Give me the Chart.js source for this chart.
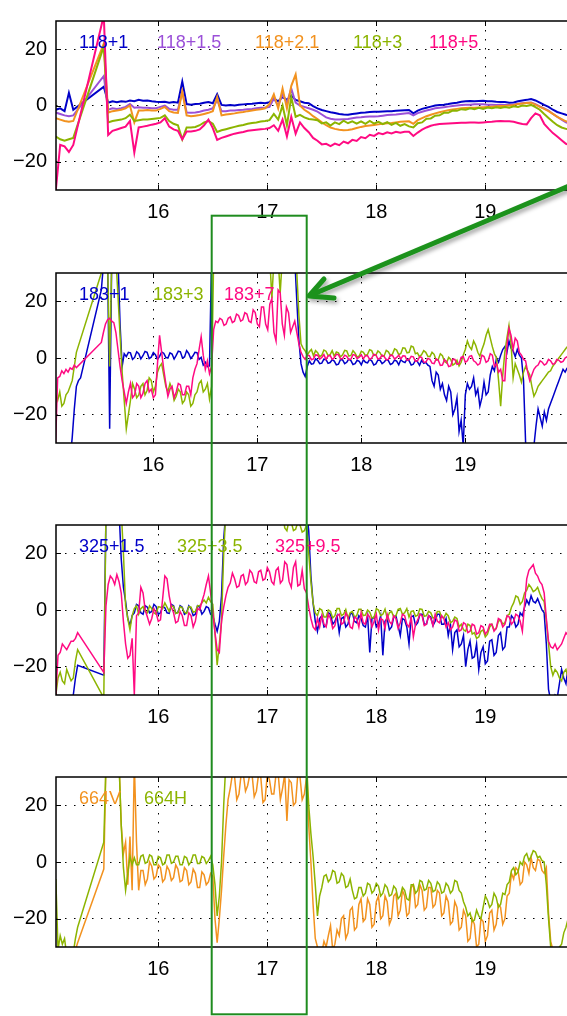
<!DOCTYPE html>
<html>
<head>
<meta charset="utf-8">
<script src="https://cdn.jsdelivr.net/npm/chart.js@4/dist/chart.umd.min.js"></script>
<style>
  html, body { margin: 0; padding: 0; background: #fff; }
  body { width: 567px; height: 1016px; position: relative; overflow: hidden; }
  canvas.panel { position: absolute; left: 0; }
  #marks { position: absolute; left: 0; top: 0; }
</style>
</head>
<body>
<canvas class="panel" id="c118" width="567" height="232" style="top:0px"></canvas>
<canvas class="panel" id="c183" width="567" height="233" style="top:252px"></canvas>
<canvas class="panel" id="c325" width="567" height="233" style="top:504px"></canvas>
<canvas class="panel" id="c664" width="567" height="233" style="top:756px"></canvas>

<svg id="marks" width="567" height="1016">
  <defs>
    <filter id="shadow" x="-10%" y="-10%" width="130%" height="140%">
      <feDropShadow dx="2" dy="3" stdDeviation="2" flood-color="#000" flood-opacity="0.35"/>
    </filter>
  </defs>
  <rect x="211.7" y="215.7" width="95" height="798.6" fill="none" stroke="#1f8c1f" stroke-width="2"/>
  <g filter="url(#shadow)" stroke="#1c921c" stroke-width="5" fill="none" stroke-linecap="round" stroke-linejoin="round">
    <line x1="600" y1="173" x2="311" y2="295"/>
    <polyline points="324,279 309,296 334,298"/>
  </g>
</svg>

<script>
// sample times (hours) for the 118 GHz traces
const T1 = [
  15.06, 15.10, 15.14, 15.18, 15.22, 15.26, 15.30, 15.34, 15.38, 15.42,
  15.46, 15.50, 15.54, 15.58, 15.62, 15.66, 15.70, 15.74, 15.78, 15.82,
  15.86, 15.90, 15.94, 15.98, 16.02, 16.06, 16.10, 16.14, 16.18, 16.22,
  16.26, 16.30, 16.34, 16.38, 16.42, 16.46, 16.50, 16.54, 16.58, 16.62,
  16.66, 16.70, 16.74, 16.78, 16.82, 16.86, 16.90, 16.94, 16.98, 17.02,
  17.06, 17.10, 17.14, 17.18, 17.22, 17.26, 17.30, 17.34, 17.38, 17.42,
  17.46, 17.50, 17.54, 17.58, 17.62, 17.66, 17.70, 17.74, 17.78, 17.82,
  17.86, 17.90, 17.94, 17.98, 18.02, 18.06, 18.10, 18.14, 18.18, 18.22,
  18.26, 18.30, 18.34, 18.38, 18.42, 18.46, 18.50, 18.54, 18.58, 18.62,
  18.66, 18.70, 18.74, 18.78, 18.82, 18.86, 18.90, 18.94, 18.98, 19.02,
  19.06, 19.10, 19.14, 19.18, 19.22, 19.26, 19.30, 19.34, 19.38, 19.42,
  19.46, 19.50, 19.54, 19.58, 19.62, 19.66, 19.70, 19.74, 19.78
];

// sample times (hours) for the noisier 183 / 325 / 664 GHz traces
const T2 = [
  15.06, 15.08, 15.10, 15.12, 15.14, 15.16, 15.18, 15.20, 15.22, 15.24, 15.26, 15.28, 15.30, 15.32, 15.34, 15.36, 15.38, 15.40, 15.42, 15.44,
  15.46, 15.48, 15.50, 15.52, 15.54, 15.56, 15.58, 15.60, 15.62, 15.64, 15.66, 15.68, 15.70, 15.72, 15.74, 15.76, 15.78, 15.80, 15.82, 15.84,
  15.86, 15.88, 15.90, 15.92, 15.94, 15.96, 15.98, 16.00, 16.02, 16.04, 16.06, 16.08, 16.10, 16.12, 16.14, 16.16, 16.18, 16.20, 16.22, 16.24,
  16.26, 16.28, 16.30, 16.32, 16.34, 16.36, 16.38, 16.40, 16.42, 16.44, 16.46, 16.48, 16.50, 16.52, 16.54, 16.56, 16.58, 16.60, 16.62, 16.64,
  16.66, 16.68, 16.70, 16.72, 16.74, 16.76, 16.78, 16.80, 16.82, 16.84, 16.86, 16.88, 16.90, 16.92, 16.94, 16.96, 16.98, 17.00, 17.02, 17.04,
  17.06, 17.08, 17.10, 17.12, 17.14, 17.16, 17.18, 17.20, 17.22, 17.24, 17.26, 17.28, 17.30, 17.32, 17.34, 17.36, 17.38, 17.40, 17.42, 17.44,
  17.46, 17.48, 17.50, 17.52, 17.54, 17.56, 17.58, 17.60, 17.62, 17.64, 17.66, 17.68, 17.70, 17.72, 17.74, 17.76, 17.78, 17.80, 17.82, 17.84,
  17.86, 17.88, 17.90, 17.92, 17.94, 17.96, 17.98, 18.00, 18.02, 18.04, 18.06, 18.08, 18.10, 18.12, 18.14, 18.16, 18.18, 18.20, 18.22, 18.24,
  18.26, 18.28, 18.30, 18.32, 18.34, 18.36, 18.38, 18.40, 18.42, 18.44, 18.46, 18.48, 18.50, 18.52, 18.54, 18.56, 18.58, 18.60, 18.62, 18.64,
  18.66, 18.68, 18.70, 18.72, 18.74, 18.76, 18.78, 18.80, 18.82, 18.84, 18.86, 18.88, 18.90, 18.92, 18.94, 18.96, 18.98, 19.00, 19.02, 19.04,
  19.06, 19.08, 19.10, 19.12, 19.14, 19.16, 19.18, 19.20, 19.22, 19.24, 19.26, 19.28, 19.30, 19.32, 19.34, 19.36, 19.38, 19.40, 19.42, 19.44,
  19.46, 19.48, 19.50, 19.52, 19.54, 19.56, 19.58, 19.60, 19.62, 19.64, 19.66, 19.68, 19.70, 19.72, 19.74, 19.76, 19.78, 19.80, 19.82, 19.84,
  19.86, 19.88, 19.90, 19.92, 19.94, 19.96, 19.98
];

const X_TICKS = [16, 17, 18, 19];
const Y_TICKS = [-20, 0, 20];

// ---- 118 GHz channels (on T1) ----
const ch118_1 = [
  -1.5, -1, -2, 4.5, -1.5, null, null, null, null, null,
  null, 6.7, 1.0, 1.5, 1.2, 1.5, 1.3, 1.8, 1.5, 2.0,
  1.7, 1.8, 1.5, 1.3, 1.2, 1.3, 1.0, 1.2, 1.0, 8.5,
  0.5, 0.3, 0.5, 0.6, 1.0, 1.2, 0.8, 4.0, 0.2, 0,
  0.2, 0, 0.3, 0.4, 0.5, 0.6, 0.8, 1.0, 0.8, 1.2,
  2.5, 1.5, 3, 2, 3.5, 2.0, 1.5, 1.0, 0.8, -0.2,
  -1.0, -1.6, -2.0, -2.4, -2.7, -3.0, -3.2, -3.3, -3.0, -2.8,
  -2.6, -2.5, -2.3, -2.2, -2.2, -2.1, -2.0, -2.0, -1.9, -1.8,
  -1.7, -1.6, -2.8, -1.8, -1.2, -0.8, -0.4, 0, 0.2, 0.3,
  0.5, 0.8, 1.0, 1.3, 1.5, 1.6, 1.5, 1.6, 1.7, 1.5,
  1.5, 1.3, 1.2, 1.2, 1.0, 1.1, 1.5, 1.8, 2.0, 2.3,
  1.8, 1.0, 0.2, -0.5, -1.5, -2.3, -2.8, -3.3, -3.6
];
const ch118_15 = [
  -2.5, -3, -3.5, -3.8, -3.5, null, null, null, null, null,
  null, 10.5, -1.5, -1.0, -1.2, -1.0, -0.5, 0.5, -0.8, -0.6,
  -0.8, -0.8, -1.0, -1.0, -0.5, 0, -1.2, -1.5, -1.5, 5,
  -2.5, -2.6, -2.5, -2.2, -1.8, -1.5, -1.0, 2, -2.0, -2.0,
  -1.8, -1.8, -1.6, -1.5, -1.3, -1.2, -1.0, -0.8, -0.8, -0.5,
  2.5, 0, 4, 1, 6, 1, 0, -0.5, -1.0, -1.5,
  -2.2, -3.2, -4.2, -4.7, -5, -5, -4.9, -4.8, -4.5, -4.3,
  -4.2, -4.0, -3.9, -3.9, -3.8, -3.6, -3.4, -3.3, -3.2, -3.0,
  -2.8, -2.7, -3.5, -2.7, -2.2, -1.8, -1.4, -1.0, -0.8, -0.6,
  -0.4, -0.2, 0, 0.2, 0.3, 0.3, 0.4, 0.4, 0.4, 0.3,
  0.3, 0.2, 0.3, 0.2, 0.2, 0.4, 0.6, 0.8, 1.0, 1.1,
  0.5, -0.3, -1.0, -1.8, -3, -4, -5, -6, -6.5
];
const ch118_21 = [
  -4.5, -5, -5.5, -5.8, -5.5, null, null, null, null, null,
  null, 22, -2.5, -2.0, -1.8, -1.5, -1.0, 0, -6, -1.8,
  -1.8, -1.6, -1.8, -1.8, -1.2, -0.5, -2.0, -2.5, -2.6, 5,
  -3.5, -3.8, -3.6, -3.4, -3.0, -2.6, -2.0, 3, -3.5, -3.2,
  -3.0, -2.8, -2.5, -2.3, -2.0, -1.8, -1.5, -1.3, -1.0, 0.5,
  4, -1, 6, -1, 7, 11, 0, -1.5, -2.5, -3.8,
  -4.8, -6.0, -7.0, -7.8, -8.3, -8.6, -8.8, -8.7, -8.4, -8.0,
  -7.6, -7.3, -7.1, -6.9, -6.7, -6.5, -6.3, -6.2, -6.0, -5.8,
  -5.7, -5.6, -6.5, -5.2, -4.5, -3.8, -3.3, -2.8, -2.4, -2.0,
  -1.7, -1.4, -1.2, -1.0, -0.9, -0.8, -0.8, -0.7, -0.6, -0.5,
  -0.4, -0.3, -0.2, -0.2, 0, 0.2, 0.5, 0.7, 0.9, 1.0,
  0.3, -0.5, -1.2, -2.0, -3, -4, -4.8, -5.6, -6
];
const ch118_3 = [
  -11, -12, -12.5, -12, -11.5, null, null, null, null, null,
  null, 21, -6, -5.5, -5.2, -5, -4.5, -3.3, -5.5, -5.2,
  -5.0, -5.0, -4.8, -4.6, -4.4, -3.5, -5.5, -6.5, -7.0, -12,
  -7.8, -7.8, -7.6, -7.0, -6.0, -5.5, -6.5, -9.4, -8.8, -8.4,
  -8.0, -7.6, -7.2, -6.9, -6.5, -6.2, -6.0, -5.7, -5.5, -5.2,
  -3, -5, 0, -7, 3, -4, -3.3, -4.2, -4.8, -5.0,
  -5.2, -6.4, -6.0, -7.1, -6.0, -6.6, -5.4, -6.3, -5.6, -6.4,
  -5.6, -6.5, -5.5, -6.4, -5.8, -6.6, -5.9, -6.9, -6.2, -7.2,
  -6.6, -7.4, -7.8, -6.3, -6.0, -4.7, -4.6, -3.6, -3.5, -2.6,
  -2.6, -1.8, -1.9, -1.3, -1.5, -1.0, -1.3, -0.8, -1.2, -0.7,
  -1.0, -0.6, -0.9, -0.5, -0.8, -0.3, -0.5, 0, -0.2, 0.2,
  -0.6, -1.5, -3.0, -4.4, -5.8, -7, -7.8, -8.3, -8.6
];
const ch118_5 = [
  -30, -14, -14.5, -16.5, -14, null, null, null, null, null,
  null, 32, -10.5, -9, -8.5, -8.0, -7.5, -5.5, -16.7, -7.8,
  -7.5, -7.2, -6.8, -6.5, -6.0, -4.5, -7.5, -8.5, -9.0, -12,
  -9.2, -9.2, -9.0, -8.5, -7.0, -5.0, -8, -12.2, -11.5, -11.0,
  -10.5, -10.0, -9.7, -9.4, -9.0, -8.8, -8.6, -8.4, -8.3, -8.0,
  -7.0, -9, -5, -11, -4, -10, -6, -8, -9.5, -11.5,
  -12.5, -13.8, -13.6, -14.4, -13.5, -14.1, -12.8, -13.4, -12.2, -12.6,
  -11.2, -11.6, -10.4, -10.8, -9.8, -10.2, -9.5, -9.9, -9.3, -9.7,
  -9.3, -9.3, -10.8, -9.6, -8.6, -7.8, -7.2, -6.8, -6.6, -6.5,
  -6.4, -6.3, -6.2, -6.1, -6.1, -6.0, -6.0, -6.1, -6.0, -5.9,
  -5.8, -5.6, -5.5, -5.6, -5.6, -5.8, -6.2, -6.6, -6.7, -4.5,
  -2.8, -3.5, -6.5, -8.2, -9.8, -11, -12.3, -13.6, -14.2
];

// ---- 183 GHz channels (on T2) ----
const ch183_1 = [
  -40, -40, -40, -40, -40, -40, -40, -36, -28, -18, -10, -8, -7, null, null, null, null, null, null, null,
  null, null, 24, 33, 35, 35, -25, 35, 35, 35, 35, 12, -3, 1.5, 0.5, 2.0, 1.8, -0.5, 0.2, 2.2,
  1.5, -0.3, 0.8, 2.3, 2.0, -0.2, 0.3, 1.9, 1.2, -0.5, 0.6, 2.1, 1.7, 0.2, 0.0, 1.8, 1.4, -0.4, 0.9, 2.4,
  2.2, 0.0, 0.4, 2.6, 1.6, -0.2, 0.7, 2.0, 1.9, -0.5, 0.2, -2.5, -1.5, -3.0, -2.8, 35, 35, 35, 35, 35,
  35, 35, 35, 35, 35, 35, 35, 35, 35, 35, 35, 35, 35, 35, 35, 35, 35, 35, 35, 35,
  35, 35, 35, 35, 35, 35, 35, 35, 35, 35, 35, 35, 35, 35, 35, 35, 20, 6, -2, -5,
  -6.5, -3, -1.0, -2.2, -2.0, -0.3, -0.8, -2.0, -1.8, -0.4, -0.5, -1.9, -1.6, -0.6, -1.1, -2.4, -2.2, -0.5, -0.7, -2.0,
  -1.5, -0.4, -0.9, -2.3, -2.0, -0.8, -1.2, -2.4, -0.6, -1.5, -1.7, -0.5, -1.0, -2.5, -2.1, -0.7, -0.8, -2.0, -1.4, -0.5,
  -0.9, -2.3, -1.9, -0.7, -1.1, -2.4, -0.6, -1.3, -1.6, -0.4, -1.0, -2.5, -2.2, -0.8, -1.3, -2.6, -0.8, -1.9, -1.5, -2.5,
  -3, -8, -10, -5, -6, -11, -9, -13, -15, -10, -12, -20, -18, -14, -26, -22, -31, -13, -9, -11,
  -10, -7, -13, -11, -17, -14, -8.5, -13, -12, -6, -3, -4.5, 0, -1.5, 1, 3, 4, 2, 6, 3.5,
  2.5, 0.5, 3, 1, 0, -8, -30, -33, -32, -31, -31, -24, -18, -21, -24, -19, -22, -18, -16, -14,
  -12, -10, -8, -6, -4, -5, -3.5
];
const ch183_3 = [
  -13, -15, -12, -17, -16, -13, -12, -10, -8, -3, 2, null, null, null, null, null, null, null, null, null,
  null, null, 30, 35, 35, 35, -3, 35, 35, 35, 22, 8, -5, -15, -25, -20, -15, -9, -11, -14,
  -13, -10, -9, -13, -11.5, -7, -8, -12, -10, -5, -3, -2, -6, -10, -12, -9, -11, -15, -13.5, -11,
  -12, -16, -15, -12, -13, -17, -16, -13, -12, -9, -8, -12, -11, -9, -14.5, -10, 35, 35, 35, 35,
  35, 35, 35, 35, 35, 35, 35, 35, 35, 35, 35, 35, 35, 35, 35, 35, 35, 35, 35, 35,
  35, 35, 35, 35, 21, 35, 35, 35, 23, 35, 35, 35, 35, 35, 35, 35, 30, 15, 5, 3.5,
  2.5, 1.0, 2.2, 3.0, 0.8, 2.6, 1.9, 0.5, 1.0, 2.8, 2.4, 0.9, 1.2, 2.6, 0.6, 2.1, 1.8, 0.4, 1.1, 2.7,
  2.5, 0.7, 0.9, 2.6, 1.7, 0.3, 0.7, 2.4, 2.0, 0.8, 1.3, 2.9, 2.6, 0.9, 1.0, 2.5, 1.9, 0.6, 0.8, 2.7,
  2.2, 0.9, 1.4, 3.2, 2.8, 1.2, 1.6, 3.6, 3.5, 1.8, 2.0, 4.2, 3.9, 1.5, 1.8, 0.4, 1.2, 2.6, 2.0, 0.6,
  0.5, 2.0, 1.3, -0.8, -0.5, 1.5, 0.8, -1.2, -1.7, 0.2, -0.5, -2.5, -2.0, -0.8, -2.8, -1.5, 1, 3, 6, 4,
  3, 6, 4.5, 2, 0.6, 3, 5, 8, 10, 7, 4, 1.5, 0, -8, -17, -6, 2, 7, 11.5, 5,
  -7, -2, -4, -6, -8.5, -5, -3, -4.5, -6, -10, -13.5, -12, -10, -9, -8, -7, -6, -5, -4.5, -3,
  -2, -1, 0, 1, 2, 3, 4
];
const ch183_7 = [
  -30, -7, -6.5, -4.5, -5.5, -4, -5, -3.5, -4, -2.5, -3.4, null, null, null, null, null, null, null, null, null,
  null, null, 5.5, 9, 12, 13.5, 14, 13, 12.5, 9, 3, -3, -8, -12, -16, -12, -9, -14, -13, -9,
  -10, -14, -12.5, -9, -8, -12, -11, -14, -13, -2, 8, 2, -4, -9, -13.5, -11, -10, -14, -12, -9,
  -9.5, -13, -13, -10, -10, -13, -7, -4, -2, 3, 7.5, 1, -4, -1, -5.5, -3, 10, 13, 12.5, 14,
  13.5, 11.5, 12, 14, 14.5, 12.5, 13, 15.5, 15, 13, 13.5, 16, 15.5, 13, 12.5, 17, 16, 12, 11, 18,
  18, 12, 10, 19, 21, 9, 6, 24, 23, 12, 8, 18, 16, 9, 11, 13, 9, 5, 2, 0.5,
  -0.5, 1.0, 0.8, -0.6, -0.3, 1.1, 1.0, -0.4, 0.2, 1.2, -0.5, 0.7, 0.9, -0.5, 0.1, 1.3, 1.2, -0.3, -0.2, 1.0,
  0.6, -0.6, -0.4, 1.2, 1.0, -0.2, 0.3, 1.1, -0.3, 0.9, 0.8, -0.5, 0.0, 1.3, 1.1, -0.4, -0.1, 1.0, 0.5, -0.7,
  -0.5, 1.0, 0.9, -0.4, 0.2, 1.0, -0.3, 0.8, 0.7, -0.8, -0.6, 0.6, 0.4, -1.2, -1.0, 0.4, 0.2, -1.4, -1.5, -0.2,
  -0.5, -1.8, -2, -0.3, -0.8, -2.6, -2.5, -0.6, -1.2, -3.0, -2.8, -0.4, -0.5, -2.2, -2, 0.2, 0.5, -1.5, -1, 0.6,
  0.8, -1.0, -1.5, -2.5, -2, 1.0, 0.5, -1.5, -1, 1.5, 1, -3, -2, -5, -4, -8, -8, 4, 10.5, 8,
  3, 7, 6, 2, 1, -0.5, -1, -5, -8, -6, -4, -3, -2.5, -1, -1.5, -2.5, -2, -0.5, -1, -2.2,
  -2, -0.5, -0.8, -1.5, -1.2, 0, 0.5
];

// ---- 325 GHz channels (on T2) ----
const ch325_15 = [
  -35, -35, -35, -35, -35, -35, -35, -35, -30, -24, -19.5, null, null, null, null, null, null, null, null, null,
  null, null, -23, 35, 35, 35, 35, 35, 35, 35, 18, 8, 3, -3, -5.5, -2, -1, 2, 1.5, -1,
  -1.5, 1.5, 1, -1, -0.5, 2, 1.2, -1.5, -1, 1.2, 0.8, -1, -1.2, 2, 1.5, -1.2, -0.8, 1.5, 1.0, -1.5,
  -1.0, 1.5, 0.5, -2, -1.5, 1.5, 1.0, -1.5, -0.5, 1.2, 0.8, -1.5, -2, -5, -7.5, -4, 5, 25, 35, 35,
  35, 35, 35, 35, 35, 35, 35, 35, 35, 35, 35, 35, 35, 35, 35, 35, 35, 35, 35, 35,
  35, 35, 35, 35, 35, 35, 35, 35, 35, 35, 35, 35, 35, 35, 35, 35, 28, 12, 2.5, -4,
  -7.5, -3, -2, -6, -5.5, -1, -1.5, -5, -4, -2, -8, -3, -2.5, -6, -5, -1.5, -1, -4, -4.5, -2,
  -3, -5.5, -6, -2, -15, -3, -2.5, -6, -5, -2, -16, -4, -3, -7, -6, -2.5, -2, -5.5, -9, -3,
  -3.5, -6, -12, -2.5, -2, -5.5, -4.5, -1.5, -1.5, -5, -5, -2, -2.5, -5.5, -4, -1.5, -1.5, -5, -5, -3,
  -9, -5, -14, -8, -7, -13, -12, -9, -20, -14, -11, -17, -16.5, -12, -21, -15, -13, -19, -18, -11,
  -10.5, -16, -15, -9, -8, -14, -13, -6, -6, -2, -3, -6, -5, -1, -2, 1, 3.5, 2, 5, 3,
  2.5, 4, 2, 0, -1, -12, -28, -32, -32, -30, -31, -26, -21, -24, -26, -20, -22
];
const ch325_35 = [
  -30, -24, -22, -25, -26, -21, -23, -25, -24, -18, -14, null, null, null, null, null, null, null, null, null,
  null, null, -31, 35, 35, 35, 35, 35, 35, 35, 35, 20, 1.5, -3, -7, -2, 0.5, 1.5, -1.5, 0.5,
  1.2, -0.5, -1, 1.5, 0.5, -1, -1.5, 1.2, 1, 0.5, 2.5, 1, -0.5, 1.5, 1.2, -1.2, -1, 1.2, 0.8, -0.8,
  -1.2, 1.2, 1.0, -0.8, -0.5, 1.5, 1.5, 2.5, 3.5, 2.5, 4.5, 3, 2, -8, -19.5, -12, -4, 20, 35, 35,
  35, 35, 35, 35, 35, 35, 35, 35, 35, 35, 35, 35, 35, 35, 35, 35, 35, 35, 35, 35,
  35, 35, 35, 31, 35, 29, 28, 32, 31, 28, 28.5, 31, 30, 27.5, 28, 30, 20, 10, 2.5, -1,
  -2, 0.5, 0, -2.5, -2.5, 0, -0.5, -2.8, -2, 0.5, 0.5, -2, -1.5, 0.2, -3, -1, -0.5, -2.5, -2, 0.3,
  0.3, -2, -1.8, 0, -0.8, -2.8, -2.5, 0.5, 0, -2, -1.5, 0.3, -3, -1, -0.5, -2.5, -2, 0.2, 0.5, -1.5,
  -1, 0.5, -2.5, -0.5, -0.3, -2.2, -1.8, 0.4, 0.2, -2.2, -2, -0.5, -1, -2.8, -2.5, -0.5, -0.5, -2.6, -2.8, -1.2,
  -2, -4.5, -4, -2.5, -3, -6, -5, -7, -7.5, -5, -5.5, -8.5, -8, -10, -9.5, -7.5, -7, -9.5, -8.5, -6,
  -5, -7, -6.5, -4, -3.5, -5, -4.5, -2, -1.5, 1, 2.5, 5, 4.5, 2, 3, 6, 7, 9, 8, 6.5,
  7, 8, 5.8, 4, 3, -4, -12, -20, -23, -21, -22, -24, -25, -22, -21, -24, -22
];
const ch325_95 = [
  -30, -16, -15, -12, -13, -14, -12.5, -11, -11, -10, -8, null, null, null, null, null, null, null, null, null,
  null, null, -22, 1.4, 9, 12, 11, 9, 12.5, 10, 6, -4, -12, -17, -16, -10, -30, -2, -1, 8,
  6, 0, -2.5, -5, -3, 0.5, -1, -4, -3.5, 4, 12, 11, 5, 1, -1, -4.5, -4, -0.5, -2, -5.5,
  -5.5, -1, -2, -6, -4, 0.5, 0, 3, 5.5, 9, 12, 6, -1, -8, -14, -15, -4, 1, 5, 8,
  9.5, 13, 11, 8, 8.5, 12, 12.5, 9, 10, 14, 13, 10, 9.5, 13.5, 14, 10.5, 11, 15, 13.5, 10,
  9, 14, 15, 9.5, 10.5, 17, 16, 10, 8, 15, 17, 8.5, 9, 14, 7.5, 6, 1, -3, -6, -7,
  -3, -6, -2, -5, -6, -1.5, -3, -6.5, -5.5, -2, -1.5, -5, -4.5, -1, -2.5, -6, -6.5, -2.5, -3, -6,
  -1, -4.5, -5, -1.5, -2.5, -6, -4, -1.5, -7, -3, -3.5, -6.5, -1.5, -4, -5, -2, -3, -6.5, -4.5, -1.5,
  -2, -5, -6, -2.5, -9.5, -5, -3.5, -1.5, -2, -5.5, -5, -2, -3, -5.5, -1.5, -4, -4.5, -2, -3, -6,
  -4.5, -7, -6, -3.5, -4, -7.5, -7, -4.5, -5, -8, -7.5, -5, -5.5, -8.5, -8, -5.5, -6, -8.5, -7.5, -5,
  -5, -7.5, -6.5, -3, -3.5, -6, -5, -2, -2.5, -5, -4, -1.5, -2, -4, -7.5, 2, 11, 14, 15, 16,
  13, 12, 10, 9, 6, -3, -11, -13, -13.5, -12, -14, -13, -12, -10, -8, -9, -7
];

// ---- 664 GHz channels (on T2) ----
const ch664V = [
  null, null, null, null, null, null, null, null, -33, -31, -28.5, null, null, null, null, null, null, null, null, null,
  null, null, -2.5, 35, 35, 35, 35, 35, 35, 35, 13, 3, 7, -8, 9, -10, 35, 7, -10, -3,
  -3, -8, -6, 0, -1.5, -6, -5, -1, -2, -7, -6, -1.5, -3, -6.5, -5.5, -1, -2.5, -7, -6.5, -2,
  -3, -8, -7, -2.5, -4, -9, -9, -3.5, -4.5, -8, -7, -4, -5, -20, -28.5, -20, -10, 2, 13, 22,
  26, 31, 30, 22, 24, 31, 31, 25, 27, 31, 31, 23, 25, 31, 30, 21, 22, 31, 29, 24,
  24, 31, 31, 22, 26, 31, 14.5, 29, 28, 20, 21, 31, 30, 22, 24, 30, 13, 0, -15, -27,
  -30, -32, -32, -28, -30, -26, -22.5, -31, -29, -24, -26, -20, -19, -27, -25, -17, -16, -24, -23, -15,
  -13, -21, -20, -13, -15, -23, -22, -14, -12, -20, -19, -12, -14, -22, -20, -12, -11, -19, -17, -10,
  -12, -19, -18, -9, -8, -16, -15, -8, -10, -17, -16, -9, -9, -16, -15, -10, -11, -19, -18, -12,
  -14, -22, -21, -14, -16, -24, -23, -17, -19, -28, -27, -20, -22, -30, -29, -20, -21, -28, -26, -18,
  -17, -24, -22, -15, -16, -22, -20, -12, -11, -4, -6, -2, -3, -8, -7, 0, -1, -4, 1.5, -2,
  -3, 1, 0.5, -3, -4, -2, -18, -28, -31, -35, -35, -35, -35, -35, -35, -35, -35
];
const ch664H = [
  -6, -31, -26, -29, -27, -33, -33, -33, -32, -27, -23, null, null, null, null, null, null, null, null, null,
  null, null, 7, 35, 35, 35, 35, 35, 35, 35, 13, -2, -10, -4, 2, -1, 1.5, -1, -1, 2,
  2.5, -0.5, 0, 2.5, 2, -1, -1, 2, 1.5, -1, -0.5, 2.5, 2.5, -0.5, 0, 2, 2, -1, -1, 2,
  1.5, -1, 0, 2.5, 2.5, -0.5, -0.5, 2, 1.5, -0.5, 0.5, 2, -1, -8, -19, -12, 0, 20, 35, 35,
  35, 35, 35, 35, 35, 35, 35, 35, 35, 35, 35, 35, 35, 35, 35, 35, 35, 35, 35, 35,
  35, 35, 35, 35, 35, 35, 35, 35, 35, 35, 35, 35, 35, 35, 35, 35, 20, 10, 2, -8,
  -19, -12, -9, -5, -4.5, -7, -6, -3, -3.5, -7.5, -7, -4, -5, -9, -8.5, -6, -10, -13, -12.5, -9,
  -9, -12, -11, -7.5, -8, -11, -10, -7.5, -8.5, -12, -11, -8, -9, -12, -11.5, -8.5, -9.5, -13, -12, -9,
  -10, -13, -13.5, -8, -8, -11, -10, -6.5, -7, -10, -9.5, -6.5, -7.5, -10.5, -10, -7, -8, -11, -10.5, -7.5,
  -8.5, -11, -10, -6.5, -7, -10, -11, -14, -16, -19, -18, -21, -20.5, -17, -19, -20, -16, -12, -13.5, -16,
  -15, -11, -12.5, -16, -15, -11, -11.5, -8, -7, -3, -2, -4.5, -3.5, 0, -1, 2, 3, 0.5, 2, 4,
  3.5, 1.5, 2, 0.5, 0, -8, -20, -30, -31, -31, -31, -30, -29, -25, -23, -20, -22
];

const BLUE = '#0000c8', PURPLE = '#9b50d8', ORANGE = '#f2921f', GREEN = '#8cb400', PINK = '#ff0a82';
const FONT = '"Liberation Sans", Arial, Helvetica, sans-serif';

Chart.defaults.font.family = FONT;
Chart.defaults.font.size = 20;
Chart.defaults.color = '#000';

// axes box, inward ticks and the coloured channel names inside each panel
const boxPlugin = {
  id: 'box',
  afterDatasetsDraw(chart, args, opts) {
    const { ctx, chartArea: a, scales: { x, y } } = chart;
    ctx.save();
    ctx.strokeStyle = '#000';
    ctx.lineWidth = 1.5;
    ctx.beginPath();
    ctx.moveTo(a.right + 2, a.top);
    ctx.lineTo(a.left, a.top);
    ctx.lineTo(a.left, a.bottom);
    ctx.lineTo(a.right + 2, a.bottom);
    ctx.stroke();

    ctx.lineWidth = 1;
    ctx.beginPath();
    X_TICKS.forEach(v => {
      const px = Math.round(x.getPixelForValue(v)) + 0.5;
      ctx.moveTo(px, a.bottom); ctx.lineTo(px, a.bottom - 5);
      ctx.moveTo(px, a.top); ctx.lineTo(px, a.top + 5);
    });
    Y_TICKS.forEach(v => {
      const py = Math.round(y.getPixelForValue(v)) + 0.5;
      ctx.moveTo(a.left, py); ctx.lineTo(a.left + 5, py);
    });
    ctx.stroke();

    ctx.font = '18px ' + FONT;
    ctx.textBaseline = 'middle';
    chart.data.datasets.forEach((ds, i) => {
      ctx.fillStyle = ds.borderColor;
      ctx.fillText(ds.label, a.left + opts.nameX[i], a.top + 22);
    });
    ctx.restore();
  }
};

function panel(id, times, xMin, xMax, lineWidth, series, nameX) {
  const n = series.length;
  return new Chart(document.getElementById(id), {
    type: 'line',
    data: {
      datasets: series.map((s, k) => ({
        label: s.label,
        data: s.values.map((v, i) => ({ x: times[i], y: v })),
        borderColor: s.color,
        borderWidth: lineWidth,
        pointRadius: 0,
        tension: 0,
        spanGaps: true,
        order: n - k          // later traces sit on top
      }))
    },
    options: {
      responsive: false,
      animation: false,
      events: [],
      layout: { padding: { top: 9, left: 0, right: 0, bottom: 0 } },
      plugins: { legend: { display: false }, tooltip: { enabled: false }, box: { nameX } },
      scales: {
        x: {
          type: 'linear', min: xMin, max: xMax,
          afterBuildTicks: s => { s.ticks = X_TICKS.map(v => ({ value: v })); },
          afterFit: s => { s.height = 42; },
          ticks: { padding: 10, maxRotation: 0, autoSkip: false },
          grid: { color: '#000', lineWidth: 1, drawTicks: false },
          border: { display: false, dash: [1.5, 7.5] }
        },
        y: {
          min: -30, max: 30,
          afterBuildTicks: s => { s.ticks = Y_TICKS.map(v => ({ value: v })); },
          afterFit: s => { s.width = 56; },
          ticks: { padding: 9, callback: v => v < 0 ? '\u2212' + (-v) : String(v) },
          grid: { color: '#000', lineWidth: 1, drawTicks: false },
          border: { display: false, dash: [1.5, 7.5] }
        }
      }
    },
    plugins: [boxPlugin]
  });
}

panel('c118', T1, 15.0615, 19.7495, 2, [
  { label: '118+1', values: ch118_1, color: BLUE },
  { label: '118+1.5', values: ch118_15, color: PURPLE },
  { label: '118+2.1', values: ch118_21, color: ORANGE },
  { label: '118+3', values: ch118_3, color: GREEN },
  { label: '118+5', values: ch118_5, color: PINK }
], [23, 101, 199, 297, 373]);

panel('c183', T2, 15.064, 19.978, 1.5, [
  { label: '183+1', values: ch183_1, color: BLUE },
  { label: '183+3', values: ch183_3, color: GREEN },
  { label: '183+7', values: ch183_7, color: PINK }
], [23, 97, 168]);

panel('c325', T2, 15.0615, 19.7495, 1.5, [
  { label: '325+1.5', values: ch325_15, color: BLUE },
  { label: '325+3.5', values: ch325_35, color: GREEN },
  { label: '325+9.5', values: ch325_95, color: PINK }
], [23, 121, 219]);

panel('c664', T2, 15.0615, 19.7495, 1.5, [
  { label: '664V', values: ch664V, color: ORANGE },
  { label: '664H', values: ch664H, color: GREEN }
], [23, 88]);
</script>
</body>
</html>
